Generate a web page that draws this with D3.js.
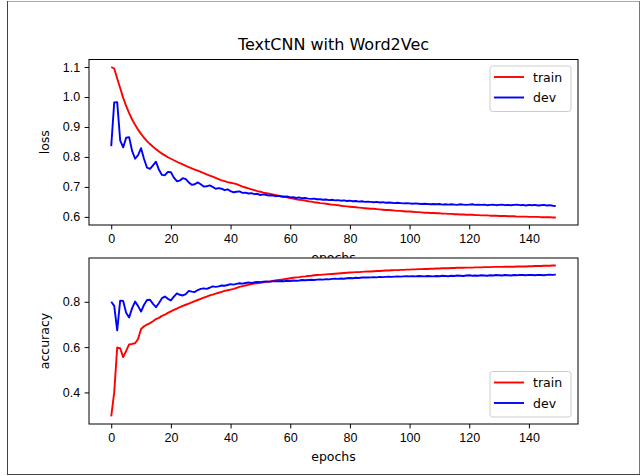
<!DOCTYPE html>
<html>
<head>
<meta charset="utf-8">
<script src="https://cdn.jsdelivr.net/npm/d3@7"></script>
<style>
  body { margin: 0; background: #fff; }
  svg { display: block; font-family: "DejaVu Sans", sans-serif; }
  .tick text { font-size: 12.5px; fill: #000; }
  .domain { display: none; }
</style>
</head>
<body>
<div id="chart"></div>
<script>
const title = "TextCNN with Word2Vec";
const seriesNames = ["train", "dev"];
const xTicks = [0, 20, 40, 60, 80, 100, 120, 140];
const lossTicks = [0.6, 0.7, 0.8, 0.9, 1.0, 1.1];
const accTicks = [0.4, 0.6, 0.8];

const trainLoss = [
  1.100, 1.095, 1.062, 1.030, 0.997, 0.970, 0.946, 0.925, 0.907, 0.891,
  0.877, 0.864, 0.853, 0.843, 0.834, 0.826, 0.818, 0.811, 0.805, 0.799,
  0.794, 0.789, 0.784, 0.779, 0.775, 0.770, 0.766, 0.762, 0.758, 0.754,
  0.750, 0.746, 0.742, 0.738, 0.734, 0.730, 0.726, 0.722, 0.719, 0.716,
  0.714, 0.712, 0.709, 0.705, 0.701, 0.698, 0.695, 0.692, 0.689, 0.686,
  0.684, 0.681, 0.679, 0.677, 0.675, 0.673, 0.671, 0.669, 0.667, 0.665,
  0.663, 0.661, 0.659, 0.657, 0.656, 0.654, 0.652, 0.651, 0.649, 0.648,
  0.646, 0.645, 0.644, 0.642, 0.641, 0.640, 0.639, 0.637, 0.636, 0.635,
  0.634, 0.633, 0.632, 0.631, 0.630, 0.629, 0.628, 0.627, 0.627, 0.626,
  0.625, 0.624, 0.623, 0.623, 0.622, 0.621, 0.620, 0.620, 0.619, 0.618,
  0.618, 0.617, 0.616, 0.616, 0.615, 0.614, 0.614, 0.613, 0.613, 0.612,
  0.612, 0.611, 0.611, 0.610, 0.610, 0.609, 0.609, 0.608, 0.608, 0.607,
  0.607, 0.607, 0.606, 0.606, 0.605, 0.605, 0.605, 0.604, 0.604, 0.604,
  0.603, 0.603, 0.603, 0.602, 0.602, 0.602, 0.601, 0.601, 0.601, 0.601,
  0.600, 0.600, 0.600, 0.600, 0.599, 0.599, 0.599, 0.599, 0.598, 0.598
];
const devLoss = [
  0.836, 0.982, 0.983, 0.855, 0.832, 0.864, 0.866, 0.820, 0.794, 0.806,
  0.829, 0.793, 0.764, 0.760, 0.772, 0.784, 0.757, 0.740, 0.739, 0.750,
  0.749, 0.731, 0.719, 0.721, 0.729, 0.726, 0.715, 0.707, 0.709, 0.715,
  0.709, 0.701, 0.702, 0.705, 0.700, 0.694, 0.696, 0.694, 0.689, 0.692,
  0.686, 0.682, 0.684, 0.685, 0.680, 0.681, 0.678, 0.679, 0.676, 0.677,
  0.673, 0.675, 0.673, 0.671, 0.672, 0.669, 0.670, 0.668, 0.667, 0.668,
  0.665, 0.666, 0.663, 0.665, 0.662, 0.663, 0.661, 0.660, 0.661, 0.659,
  0.659, 0.657, 0.658, 0.656, 0.657, 0.655, 0.656, 0.654, 0.655, 0.653,
  0.654, 0.652, 0.653, 0.651, 0.652, 0.650, 0.651, 0.650, 0.649, 0.650,
  0.648, 0.649, 0.647, 0.648, 0.647, 0.646, 0.647, 0.646, 0.645, 0.646,
  0.645, 0.644, 0.645, 0.644, 0.643, 0.644, 0.643, 0.642, 0.643, 0.642,
  0.643, 0.641, 0.642, 0.641, 0.642, 0.641, 0.640, 0.642, 0.641, 0.640,
  0.641, 0.642, 0.640, 0.641, 0.640, 0.641, 0.639, 0.640, 0.641, 0.639,
  0.640, 0.641, 0.639, 0.640, 0.639, 0.640, 0.641, 0.639, 0.640, 0.638,
  0.640, 0.639, 0.640, 0.638, 0.639, 0.640, 0.638, 0.639, 0.637, 0.636
];
const trainAcc = [
  0.294, 0.400, 0.598, 0.595, 0.556, 0.583, 0.612, 0.614, 0.617, 0.636,
  0.680, 0.692, 0.699, 0.706, 0.714, 0.724, 0.729, 0.738, 0.743, 0.751,
  0.758, 0.764, 0.770, 0.776, 0.782, 0.787, 0.792, 0.797, 0.803, 0.808,
  0.813, 0.818, 0.823, 0.828, 0.832, 0.836, 0.840, 0.844, 0.848, 0.851,
  0.854, 0.857, 0.861, 0.866, 0.869, 0.872, 0.875, 0.878, 0.880, 0.882,
  0.884, 0.886, 0.888, 0.890, 0.892, 0.894, 0.896, 0.898, 0.900, 0.902,
  0.904, 0.906, 0.908, 0.909, 0.911, 0.912, 0.914, 0.915, 0.917, 0.918,
  0.919, 0.920, 0.921, 0.922, 0.923, 0.924, 0.925, 0.926, 0.927, 0.928,
  0.929, 0.930, 0.931, 0.931, 0.932, 0.933, 0.934, 0.934, 0.935, 0.936,
  0.936, 0.937, 0.938, 0.938, 0.939, 0.940, 0.940, 0.941, 0.941, 0.942,
  0.942, 0.943, 0.943, 0.944, 0.944, 0.945, 0.945, 0.946, 0.946, 0.947,
  0.947, 0.948, 0.948, 0.948, 0.949, 0.949, 0.950, 0.950, 0.950, 0.951,
  0.951, 0.951, 0.952, 0.952, 0.952, 0.953, 0.953, 0.953, 0.954, 0.954,
  0.954, 0.954, 0.955, 0.955, 0.955, 0.955, 0.956, 0.956, 0.956, 0.956,
  0.957, 0.957, 0.958, 0.958, 0.958, 0.959, 0.959, 0.959, 0.960, 0.960
];
const devAcc = [
  0.800, 0.782, 0.674, 0.805, 0.804, 0.752, 0.731, 0.772, 0.801, 0.781,
  0.757, 0.787, 0.808, 0.809, 0.791, 0.776, 0.795, 0.816, 0.823, 0.813,
  0.806, 0.823, 0.837, 0.831, 0.828, 0.834, 0.848, 0.845, 0.843, 0.852,
  0.857, 0.859, 0.857, 0.862, 0.868, 0.866, 0.868, 0.872, 0.871, 0.874,
  0.878, 0.876, 0.879, 0.882, 0.880, 0.883, 0.885, 0.883, 0.886, 0.888,
  0.887, 0.889, 0.890, 0.888, 0.890, 0.891, 0.890, 0.892, 0.891, 0.893,
  0.892, 0.894, 0.893, 0.894, 0.896, 0.895, 0.896, 0.897, 0.896, 0.898,
  0.899, 0.898, 0.900, 0.899, 0.901, 0.902, 0.901, 0.903, 0.902, 0.904,
  0.905, 0.904, 0.906, 0.905, 0.907, 0.908, 0.907, 0.908, 0.909, 0.908,
  0.910, 0.909, 0.910, 0.911, 0.910, 0.911, 0.912, 0.911, 0.912, 0.913,
  0.912, 0.913, 0.912, 0.914, 0.913, 0.912, 0.914, 0.913, 0.912, 0.914,
  0.913, 0.915, 0.914, 0.913, 0.915, 0.914, 0.916, 0.915, 0.914, 0.916,
  0.917, 0.915, 0.916, 0.915, 0.917, 0.916, 0.915, 0.917, 0.916, 0.918,
  0.917, 0.916, 0.918, 0.917, 0.916, 0.918, 0.917, 0.919, 0.918, 0.917,
  0.919, 0.918, 0.917, 0.919, 0.918, 0.917, 0.919, 0.920, 0.919, 0.920
];

const width = 642, height = 476;
const colors = ["#ff0000", "#0000ff"];
const left = 89, right = 578;

const svg = d3.select("#chart").append("svg")
  .attr("width", width)
  .attr("height", height);

svg.append("rect").attr("width", width).attr("height", height).attr("fill", "#fff");

// matplotlib-like 5% margins
function padded(ext) {
  const m = (ext[1] - ext[0]) * 0.05;
  return [ext[0] - m, ext[1] + m];
}

const epochs = d3.range(trainLoss.length);
const x = d3.scaleLinear()
  .domain(padded([0, epochs.length - 1]))
  .range([left, right]);

function panel(top, bottom, series, ticks, yLabel, legendY) {
  const all = series[0].concat(series[1]);
  const y = d3.scaleLinear()
    .domain(padded(d3.extent(all)))
    .range([bottom, top]);

  const g = svg.append("g");
  g.append("rect")
    .attr("x", left).attr("y", top)
    .attr("width", right - left).attr("height", bottom - top)
    .attr("fill", "#fff");

  const line = d3.line().x((d, i) => x(i)).y(d => y(d));
  series.forEach((s, k) => {
    g.append("path")
      .datum(s)
      .attr("fill", "none")
      .attr("stroke", colors[k])
      .attr("stroke-width", 1.9)
      .attr("stroke-linejoin", "round")
      .attr("d", line);
  });

  g.append("g")
    .attr("transform", `translate(0,${bottom})`)
    .call(d3.axisBottom(x).tickValues(xTicks).tickSize(4.4).tickPadding(4.4));
  g.append("g")
    .attr("transform", `translate(${left},0)`)
    .call(d3.axisLeft(y).tickValues(ticks).tickFormat(d3.format(".1f")).tickSize(4.4).tickPadding(4.4));

  g.append("rect")
    .attr("x", left).attr("y", top)
    .attr("width", right - left).attr("height", bottom - top)
    .attr("fill", "none").attr("stroke", "#000").attr("stroke-width", 1);

  g.append("text")
    .attr("transform", `translate(49,${(top + bottom) / 2}) rotate(-90)`)
    .attr("text-anchor", "middle")
    .attr("font-size", 12.5)
    .text(yLabel);

  g.append("text")
    .attr("x", (left + right) / 2)
    .attr("y", bottom + 37)
    .attr("text-anchor", "middle")
    .attr("font-size", 12.5)
    .text("epochs");

  // legend
  const lg = g.append("g").attr("transform", `translate(490,${legendY})`);
  lg.append("rect")
    .attr("width", 81).attr("height", 45.5)
    .attr("rx", 2.5)
    .attr("fill", "#fff").attr("fill-opacity", 0.8)
    .attr("stroke", "#cccccc").attr("stroke-width", 1);
  seriesNames.forEach((name, k) => {
    const ry = 11 + k * 20.5;
    lg.append("line")
      .attr("x1", 4).attr("x2", 34)
      .attr("y1", ry).attr("y2", ry)
      .attr("stroke", colors[k]).attr("stroke-width", 1.9);
    lg.append("text")
      .attr("x", 43).attr("y", ry + 4.5)
      .attr("font-size", 12.5)
      .text(name);
  });
}

panel(59.5, 225, [trainLoss, devLoss], lossTicks, "loss", 66);
panel(258, 424, [trainAcc, devAcc], accTicks, "accuracy", 371.5);

svg.append("text")
  .attr("x", (left + right) / 2)
  .attr("y", 50)
  .attr("text-anchor", "middle")
  .attr("font-size", 16)
  .text(title);

// outer frame of the screenshot
svg.append("line").attr("x1", 7).attr("x2", 640).attr("y1", 1.5).attr("y2", 1.5).attr("stroke", "#aaa");
svg.append("line").attr("x1", 7.5).attr("x2", 7.5).attr("y1", 1).attr("y2", 475).attr("stroke", "#444");
svg.append("line").attr("x1", 639.5).attr("x2", 639.5).attr("y1", 1).attr("y2", 475).attr("stroke", "#777");
svg.append("line").attr("x1", 7).attr("x2", 640).attr("y1", 474.5).attr("y2", 474.5).attr("stroke", "#444");
</script>
</body>
</html>
